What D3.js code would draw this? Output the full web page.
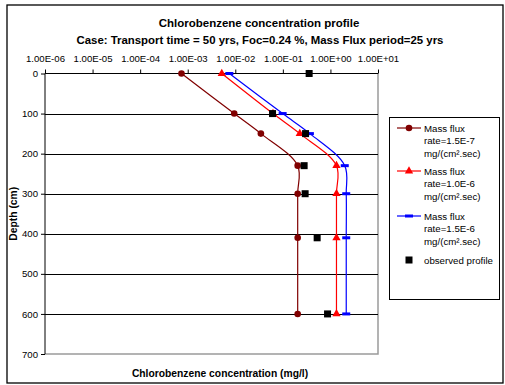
<!DOCTYPE html>
<html>
<head>
<meta charset="utf-8">
<script src="https://cdn.jsdelivr.net/npm/d3@7"></script>
<style>
  body { margin: 0; background: #fff; }
  svg { font-family: "Liberation Sans", Arial, sans-serif; }
</style>
</head>
<body>
<div id="chart"></div>
<script>
// depths (cm) shared by every profile
const depths = [0, 100, 150, 230, 300, 410, 600];

// concentration (mg/l) for each mass flux rate
const flux15e7 = [0.00074, 0.0095, 0.0345, 0.205, 0.205, 0.205, 0.205];
const flux10e6 = [0.0052, 0.062, 0.227, 1.34, 1.34, 1.34, 1.34];
const flux15e6 = [0.0075, 0.099, 0.37, 2.0, 2.15, 2.15, 2.15];
const observed = [0.357, 0.0607, 0.30, 0.28, 0.294, 0.526, 0.87];

const xTicks = [1e-6, 1e-5, 1e-4, 1e-3, 1e-2, 1e-1, 1e0, 1e1];
const xTickLabels = ["1.00E-06", "1.00E-05", "1.00E-04", "1.00E-03",
                     "1.00E-02", "1.00E-01", "1.00E+00", "1.00E+01"];
const yTicks = [0, 100, 200, 300, 400, 500, 600, 700];

const legendLabels = [
    ["Mass flux", "rate=1.5E-7", "mg/(cm\u00b2.sec)"],
    ["Mass flux", "rate=1.0E-6", "mg/(cm\u00b2.sec)"],
    ["Mass flux", "rate=1.5E-6", "mg/(cm\u00b2.sec)"],
    ["observed profile"]
];

const width = 505, height = 385;
const plot = {left: 45, right: 378, top: 73.5, bottom: 354};

const svg = d3.select("#chart").append("svg")
    .attr("width", width)
    .attr("height", height);

// chart border
svg.append("rect")
    .attr("x", 7).attr("y", 5)
    .attr("width", 496).attr("height", 378)
    .attr("fill", "#fff")
    .attr("stroke", "#000")
    .attr("stroke-width", 1.3);

// titles
svg.append("text")
    .attr("x", 259).attr("y", 27)
    .attr("text-anchor", "middle")
    .attr("font-weight", "bold")
    .attr("font-size", "11.5px")
    .text("Chlorobenzene concentration profile");

svg.append("text")
    .attr("x", 260).attr("y", 43.5)
    .attr("text-anchor", "middle")
    .attr("font-weight", "bold")
    .attr("font-size", "11.4px")
    .text("Case: Transport time = 50 yrs, Foc=0.24 %, Mass Flux period=25 yrs");

let x = d3.scaleLog()
    .domain([1e-6, 1e1])
    .range([plot.left, plot.right]);

let y = d3.scaleLinear()
    .domain([0, 700])
    .range([plot.top, plot.bottom]);

// plot area border (gray right / bottom)
svg.append("path")
    .attr("d", "M" + plot.right + "," + plot.top + "V" + plot.bottom + "H" + plot.left)
    .attr("fill", "none")
    .attr("stroke", "#9a9a9a")
    .attr("stroke-width", 1.5);

// horizontal gridlines
svg.selectAll(".grid")
    .data(yTicks.slice(1, -1))
    .enter().append("line")
    .attr("class", "grid")
    .attr("x1", plot.left).attr("x2", plot.right)
    .attr("y1", function (d) { return Math.round(y(d)) + 0.5; })
    .attr("y2", function (d) { return Math.round(y(d)) + 0.5; })
    .attr("stroke", "#000")
    .attr("stroke-width", 1);

// top axis
let xAxis = d3.axisTop(x)
    .tickValues(xTicks)
    .tickSize(4)
    .tickFormat(function (d, i) { return xTickLabels[i]; });

let gx = svg.append("g")
    .attr("transform", "translate(0," + plot.top + ")")
    .call(xAxis);
gx.select(".domain").attr("d", "M" + plot.left + ",0H" + plot.right);
gx.selectAll("text")
    .attr("font-size", "9.6px")
    .attr("font-family", null)
    .attr("y", -12);

// left axis
let yAxis = d3.axisLeft(y)
    .tickValues(yTicks)
    .tickSize(4);

let gy = svg.append("g")
    .attr("transform", "translate(" + plot.left + ",0)")
    .call(yAxis);
gy.select(".domain").attr("d", "M0," + plot.top + "V" + plot.bottom);
gy.selectAll("text")
    .attr("font-size", "9.6px")
    .attr("font-family", null)
    .attr("x", -7);

svg.append("text")
    .attr("transform", "translate(17," + ((plot.top + plot.bottom) / 2) + ") rotate(-90)")
    .attr("text-anchor", "middle")
    .attr("font-weight", "bold")
    .attr("font-size", "10.3px")
    .text("Depth (cm)");

svg.append("text")
    .attr("x", 220).attr("y", 376.5)
    .attr("text-anchor", "middle")
    .attr("font-weight", "bold")
    .attr("font-size", "10.3px")
    .text("Chlorobenzene concentration (mg/l)");

let series = [
    {values: flux15e7, color: "#800000", marker: "circle"},
    {values: flux10e6, color: "#ff0000", marker: "triangle"},
    {values: flux15e6, color: "#0000ff", marker: "dash"}
];

let line = d3.line()
    .x(function (d) { return x(d[0]); })
    .y(function (d) { return y(d[1]); })
    .curve(d3.curveCatmullRom.alpha(0.5));

function drawMarker(g, type, color, cx, cy) {
    if (type === "circle") {
        g.append("circle").attr("cx", cx).attr("cy", cy).attr("r", 3.3).attr("fill", color);
    } else if (type === "triangle") {
        g.append("path")
            .attr("d", d3.symbol(d3.symbolTriangle, 30)())
            .attr("transform", "translate(" + cx + "," + cy + ")")
            .attr("fill", color);
    } else if (type === "dash") {
        g.append("rect").attr("x", cx - 4).attr("y", cy - 1.5)
            .attr("width", 8).attr("height", 3).attr("fill", color);
    } else if (type === "square") {
        g.append("rect").attr("x", cx - 3.5).attr("y", cy - 3.5)
            .attr("width", 7).attr("height", 7).attr("fill", color);
    }
}

series.forEach(function (s) {
    let pts = depths.map(function (d, i) { return [s.values[i], d]; });
    svg.append("path")
        .datum(pts)
        .attr("fill", "none")
        .attr("stroke", s.color)
        .attr("stroke-width", 1.2)
        .attr("d", line);
    let g = svg.append("g");
    pts.forEach(function (p) {
        drawMarker(g, s.marker, s.color, x(p[0]), y(p[1]));
    });
});

// observed profile, markers only
let og = svg.append("g");
depths.forEach(function (d, i) {
    drawMarker(og, "square", "#000", x(observed[i]), y(d));
});

// legend
let legend = svg.append("g");
legend.append("rect")
    .attr("x", 389.5).attr("y", 117.5)
    .attr("width", 110).attr("height", 182)
    .attr("fill", "#fff")
    .attr("stroke", "#000")
    .attr("stroke-width", 1);

let legendY = [128, 171, 216, 260];
let legendKeys = series.concat([{color: "#000", marker: "square"}]);

legendKeys.forEach(function (s, i) {
    let ly = legendY[i];
    if (s.values) {
        legend.append("line")
            .attr("x1", 397).attr("x2", 421)
            .attr("y1", ly).attr("y2", ly)
            .attr("stroke", s.color)
            .attr("stroke-width", 1.2);
    }
    drawMarker(legend, s.marker, s.color, 409, ly);
    legend.append("text")
        .attr("x", 424)
        .attr("y", ly + 3.5)
        .attr("font-size", "9.7px")
        .selectAll("tspan")
        .data(legendLabels[i])
        .enter().append("tspan")
        .attr("x", 424)
        .attr("dy", function (t, j) { return j === 0 ? 0 : 12.5; })
        .text(function (t) { return t; });
});
</script>
</body>
</html>
